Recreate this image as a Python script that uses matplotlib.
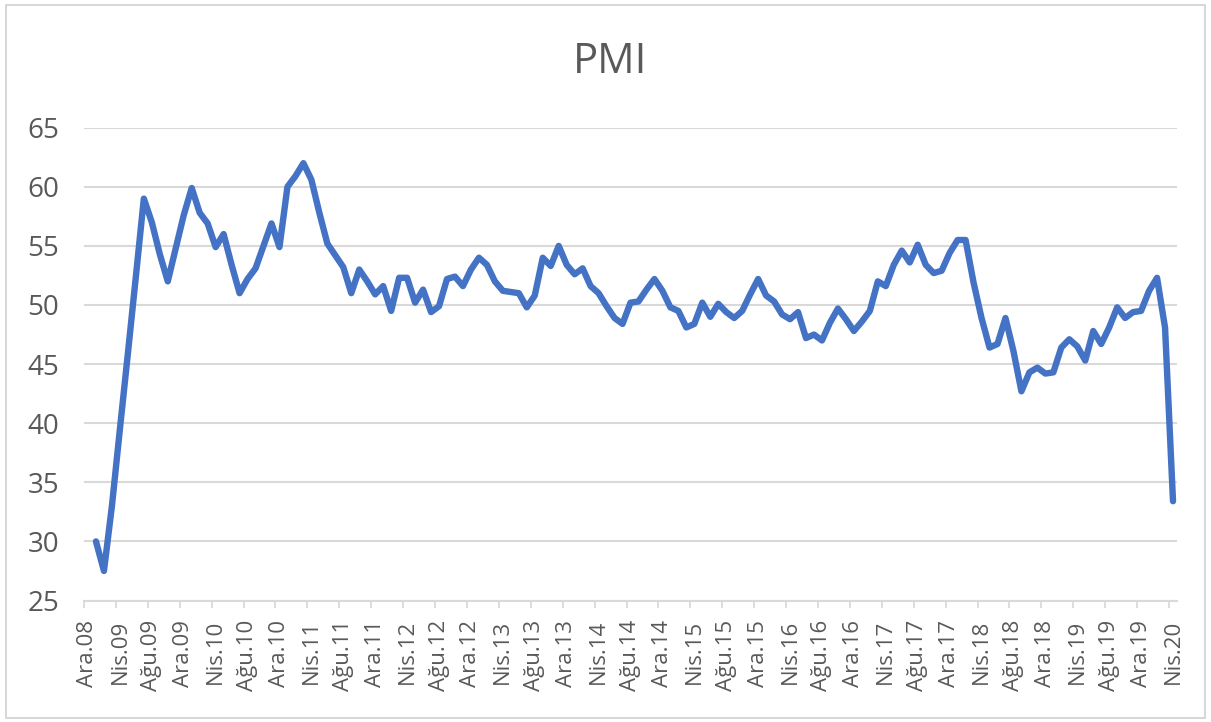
import numpy as np
import matplotlib
matplotlib.use("Agg")
import matplotlib.pyplot as plt
from matplotlib.patches import Rectangle

plt.rcParams['font.family'] = ['Open Sans', 'DejaVu Sans']

# Month names (Turkish) used to build the monthly category axis Ara.08 .. Nis.20
month_names = ["Oca", "Şub", "Mar", "Nis", "May", "Haz",
               "Tem", "Ağu", "Eyl", "Eki", "Kas", "Ara"]
categories = ["Ara.08"] + [f"{m}.{y:02d}" for y in range(9, 21) for m in month_names][:136]

# PMI values (first category Ara.08 has no point)
pmi = [
    np.nan,
    30.0, 27.5, 33.0, 39.5, 45.9, 52.4, 59.0, 57.0, 54.3, 52.0, 54.8, 57.6,
    59.9, 57.8, 56.9, 54.9, 56.0, 53.4, 51.0, 52.2, 53.1, 55.0, 56.9, 54.9,
    60.0, 60.9, 62.0, 60.6, 57.8, 55.2, 54.2, 53.2, 51.0, 53.0, 52.0, 50.9,
    51.6, 49.5, 52.3, 52.3, 50.2, 51.3, 49.4, 49.9, 52.2, 52.4, 51.6, 53.0,
    54.0, 53.4, 52.0, 51.2, 51.1, 51.0, 49.8, 50.8, 54.0, 53.3, 55.0, 53.4,
    52.6, 53.1, 51.6, 51.0, 49.9, 48.9, 48.4, 50.2, 50.3, 51.3, 52.2, 51.2,
    49.8, 49.5, 48.1, 48.4, 50.2, 49.0, 50.1, 49.4, 48.9, 49.5, 50.9, 52.2,
    50.8, 50.3, 49.2, 48.8, 49.4, 47.2, 47.5, 47.0, 48.5, 49.7, 48.8, 47.8,
    48.6, 49.5, 52.0, 51.6, 53.4, 54.6, 53.6, 55.1, 53.4, 52.7, 52.9, 54.4,
    55.5, 55.5, 51.9, 48.9, 46.4, 46.7, 48.9, 46.1, 42.7, 44.3, 44.7, 44.2,
    44.3, 46.4, 47.1, 46.5, 45.3, 47.8, 46.7, 48.1, 49.8, 48.9, 49.4, 49.5,
    51.2, 52.3, 48.1, 33.4,
]

tick_labels = ["Ara.08", "Nis.09", "Ağu.09", "Ara.09", "Nis.10", "Ağu.10", "Ara.10",
               "Nis.11", "Ağu.11", "Ara.11", "Nis.12", "Ağu.12", "Ara.12", "Nis.13",
               "Ağu.13", "Ara.13", "Nis.14", "Ağu.14", "Ara.14", "Nis.15", "Ağu.15",
               "Ara.15", "Nis.16", "Ağu.16", "Ara.16", "Nis.17", "Ağu.17", "Ara.17",
               "Nis.18", "Ağu.18", "Ara.18", "Nis.19", "Ağu.19", "Ara.19", "Nis.20"]
y_ticks = [25, 30, 35, 40, 45, 50, 55, 60, 65]

text_color = "#595959"
grid_color = "#D9D9D9"
line_color = "#4472C4"

fig = plt.figure(figsize=(12.11, 7.22), dpi=100)
fig.patch.set_facecolor("white")
fig.patches.append(Rectangle((6 / 1211, 4 / 722), 1199 / 1211, 713 / 722,
                             transform=fig.transFigure, fill=False,
                             edgecolor="#D0D0D0", linewidth=1.2))

ax = fig.add_axes([84 / 1211, 1 - 600.5 / 722, (1177 - 84) / 1211, (600.5 - 127.7) / 722])

x = np.arange(len(categories))
ax.plot(x, pmi, color=line_color, linewidth=4.6, solid_joinstyle="round",
        solid_capstyle="round", zorder=3)

ax.set_xlim(-0.5, len(categories) - 0.5)
ax.set_ylim(25, 65)

ax.set_yticks(y_ticks)
ax.set_yticklabels([str(v) for v in y_ticks])
ax.yaxis.grid(True, color=grid_color, linewidth=1.5)
ax.set_axisbelow(True)

label_pos = [categories.index(t) for t in tick_labels]
ax.set_xticks(label_pos)
ax.set_xticklabels(tick_labels, rotation=90)
ax.set_xticks(np.arange(-0.5, len(categories) - 1, 4), minor=True)
ax.tick_params(axis="x", which="major", length=0, pad=14, labelsize=16, labelcolor=text_color)
ax.tick_params(axis="x", which="minor", length=5, width=1.3, color=grid_color)
ax.tick_params(axis="y", length=0, pad=18, labelsize=20, labelcolor=text_color)

for s in ["top", "right", "left"]:
    ax.spines[s].set_visible(False)
ax.spines["bottom"].set_color(grid_color)
ax.spines["bottom"].set_linewidth(1.5)

fig.text(610 / 1211, 1 - 62 / 722, "PMI", ha="center", va="center",
         fontsize=30, color=text_color)

fig.savefig("out.png", dpi=100, facecolor="white")
